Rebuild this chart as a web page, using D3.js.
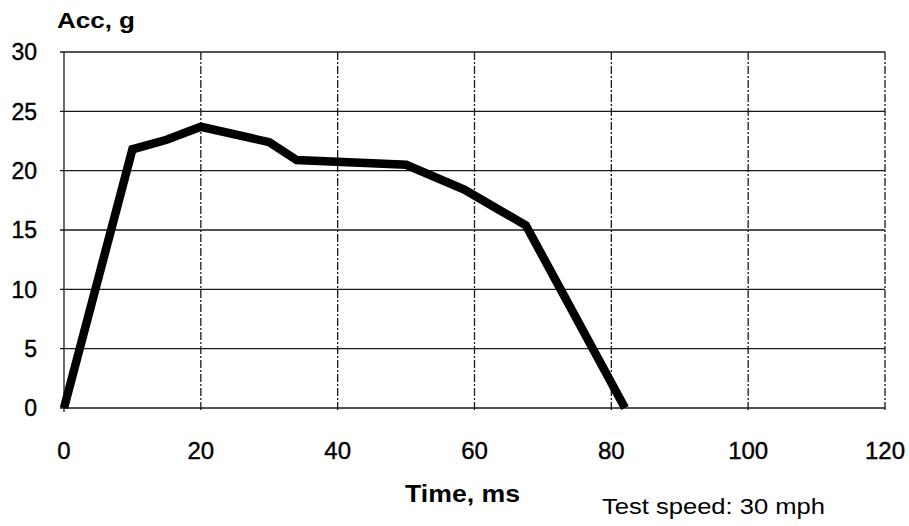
<!DOCTYPE html>
<html>
<head>
<meta charset="utf-8">
<script src="https://cdn.jsdelivr.net/npm/d3@7"></script>
<style>
  body { margin: 0; background: #fff; }
  text { font-family: "Liberation Sans", Arial, sans-serif; fill: #000; }
  .tick { stroke: #000; stroke-width: 0.4px; }
</style>
</head>
<body>
<div id="canvas"></div>
<script>
// data
var time = [0, 10, 15, 20, 30, 34, 50, 58.5, 63, 67.5, 82];
var acc = [0, 21.8, 22.6, 23.7, 22.4, 20.9, 20.5, 18.4, 16.9, 15.4, 0];
var xTicks = [0, 20, 40, 60, 80, 100, 120];
var yTicks = [0, 5, 10, 15, 20, 25, 30];

var width = 909, height = 526;
var pLeft = 64, pRight = 885, pTop = 52, pBottom = 408;

var x = d3.scaleLinear().domain([0, 120]).range([pLeft, pRight]);
var y = d3.scaleLinear().domain([0, 30]).range([pBottom, pTop]);

var svg = d3.select('#canvas')
    .append('svg')
    .attr('width', width)
    .attr('height', height);

// horizontal grid
svg.append('g')
    .selectAll('line')
    .data(yTicks)
    .enter()
    .append('line')
    .attr('x1', pLeft - 4)
    .attr('x2', pRight)
    .attr('y1', function(d){ return y(d); })
    .attr('y2', function(d){ return y(d); })
    .attr('stroke', '#1a1a1a')
    .attr('stroke-width', 1.3);

// vertical grid (dash-dot)
svg.append('g')
    .selectAll('line')
    .data(xTicks)
    .enter()
    .append('line')
    .attr('x1', function(d){ return x(d); })
    .attr('x2', function(d){ return x(d); })
    .attr('y1', pTop)
    .attr('y2', pBottom + 4)
    .attr('stroke', '#1a1a1a')
    .attr('stroke-width', 1.3)
    .attr('stroke-dasharray', function(d){ return d == 0 ? null : '8,2,2,2'; });

// y tick labels
svg.append('g')
    .selectAll('text')
    .data(yTicks)
    .enter()
    .append('text')
    .attr('class', 'tick')
    .attr('x', 37)
    .attr('y', function(d){ return y(d); })
    .attr('dy', '0.36em')
    .attr('text-anchor', 'end')
    .style('font-size', '23px')
    .text(function(d){ return d; });

// x tick labels
svg.append('g')
    .selectAll('text')
    .data(xTicks)
    .enter()
    .append('text')
    .attr('class', 'tick')
    .attr('x', function(d){ return x(d); })
    .attr('y', 459)
    .attr('text-anchor', 'middle')
    .style('font-size', '24px')
    .text(function(d){ return d; });

// line
var line = d3.line()
    .x(function(d){ return x(d[0]); })
    .y(function(d){ return y(d[1]); });

svg.append('path')
    .datum(d3.zip(time, acc))
    .attr('d', line)
    .attr('fill', 'none')
    .attr('stroke', '#000')
    .attr('stroke-width', 8.5)
    .attr('stroke-linejoin', 'miter');

// titles
svg.append('text')
    .attr('x', 57)
    .attr('y', 28)
    .attr('textLength', 78)
    .attr('lengthAdjust', 'spacingAndGlyphs')
    .style('font-size', '22px')
    .style('font-weight', 'bold')
    .text('Acc, g');

svg.append('text')
    .attr('x', 405)
    .attr('y', 502)
    .attr('textLength', 115)
    .attr('lengthAdjust', 'spacingAndGlyphs')
    .style('font-size', '23px')
    .style('font-weight', 'bold')
    .text('Time, ms');

svg.append('text')
    .attr('x', 602)
    .attr('y', 514)
    .attr('textLength', 223)
    .attr('lengthAdjust', 'spacingAndGlyphs')
    .style('font-size', '22px')
    .text('Test speed: 30 mph');
</script>
</body>
</html>
